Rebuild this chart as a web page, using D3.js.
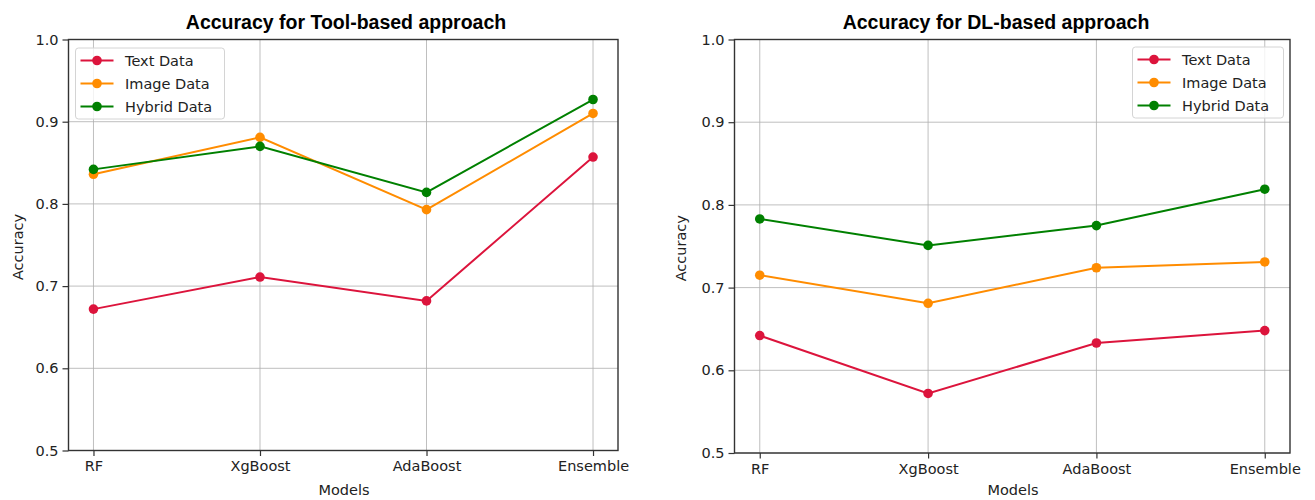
<!DOCTYPE html>
<html>
<head>
<meta charset="utf-8">
<script src="https://cdn.jsdelivr.net/npm/d3@7/dist/d3.min.js"></script>
<style>
  html, body { margin: 0; padding: 0; background: #fff; }
  svg { display: block; }
  .tick text { font-family: "DejaVu Sans", sans-serif; }
</style>
</head>
<body>
<svg id="chart" width="1315" height="500"></svg>
<script>
// Models evaluated on each approach
const models = ["RF", "XgBoost", "AdaBoost", "Ensemble"];
const seriesNames = ["Text Data", "Image Data", "Hybrid Data"];
const seriesColors = ["#dc143c", "#ff8c00", "#008000"];
const yTicks = [0.5, 0.6, 0.7, 0.8, 0.9, 1.0];

// Tool-based approach accuracy
const toolText   = [0.672, 0.711, 0.682, 0.857];
const toolImage  = [0.836, 0.881, 0.793, 0.910];
const toolHybrid = [0.842, 0.870, 0.814, 0.927];

// DL-based approach accuracy
const dlText   = [0.642, 0.572, 0.633, 0.648];
const dlImage  = [0.715, 0.681, 0.724, 0.731];
const dlHybrid = [0.783, 0.751, 0.775, 0.819];

const panels = [
  {
    title: "Accuracy for Tool-based approach",
    series: [toolText, toolImage, toolHybrid],
    box: { left: 68.5, right: 618, top: 39.5, bottom: 450.5 },
    titleX: 346, yLabelX: 17.5, xLabelX: 344,
    legend: { x: 75.5, y: 48, w: 149, h: 71 }
  },
  {
    title: "Accuracy for DL-based approach",
    series: [dlText, dlImage, dlHybrid],
    box: { left: 734.5, right: 1290, top: 39.5, bottom: 453 },
    titleX: 996, yLabelX: 681, xLabelX: 1013,
    legend: { x: 1132.5, y: 47, w: 151, h: 71 }
  }
];

const svg = d3.select("#chart");
const tickFont = "14.5px";

panels.forEach(p => {
  const b = p.box;
  const x = d3.scalePoint().domain(models).range([b.left, b.right]).padding(0.15);
  const y = d3.scaleLinear().domain([0.5, 1.0]).range([b.bottom, b.top]);

  const g = svg.append("g");

  // grid
  g.append("g").selectAll("line").data(models).join("line")
    .attr("x1", d => x(d)).attr("x2", d => x(d))
    .attr("y1", b.top).attr("y2", b.bottom)
    .attr("stroke", "#b0b0b0").attr("stroke-width", 1).attr("opacity", 0.8);
  g.append("g").selectAll("line").data(yTicks).join("line")
    .attr("x1", b.left).attr("x2", b.right)
    .attr("y1", d => y(d)).attr("y2", d => y(d))
    .attr("stroke", "#b0b0b0").attr("stroke-width", 1).attr("opacity", 0.8);

  // axes
  const xAxis = g.append("g").attr("transform", `translate(0,${b.bottom})`)
    .call(d3.axisBottom(x).tickSizeOuter(0).tickSize(5.5).tickPadding(5));
  const yAxis = g.append("g").attr("transform", `translate(${b.left},0)`)
    .call(d3.axisLeft(y).tickValues(yTicks).tickFormat(d3.format(".1f"))
      .tickSizeOuter(0).tickSize(6).tickPadding(4));
  [xAxis, yAxis].forEach(a => {
    a.select(".domain").remove();
    a.selectAll(".tick line").attr("stroke", "#333").attr("stroke-width", 1.2);
    a.selectAll(".tick text").attr("fill", "#222").style("font-size", tickFont);
  });

  // frame
  g.append("rect")
    .attr("x", b.left).attr("y", b.top)
    .attr("width", b.right - b.left).attr("height", b.bottom - b.top)
    .attr("fill", "none").attr("stroke", "#333").attr("stroke-width", 1.4);

  // lines and markers
  const line = d3.line().x((d, i) => x(models[i])).y(d => y(d));
  p.series.forEach((vals, si) => {
    g.append("path").datum(vals)
      .attr("d", line).attr("fill", "none")
      .attr("stroke", seriesColors[si]).attr("stroke-width", 2);
    g.append("g").selectAll("circle").data(vals).join("circle")
      .attr("cx", (d, i) => x(models[i])).attr("cy", d => y(d))
      .attr("r", 4.8).attr("fill", seriesColors[si]);
  });

  // title
  g.append("text").attr("x", p.titleX).attr("y", 29)
    .attr("text-anchor", "middle")
    .style("font-family", "'Liberation Sans', Arial, sans-serif")
    .style("font-weight", "bold").style("font-size", "19.5px")
    .attr("fill", "#000").text(p.title);

  // axis labels
  g.append("text").attr("x", p.xLabelX).attr("y", 495)
    .attr("text-anchor", "middle")
    .style("font-family", "'DejaVu Sans', sans-serif").style("font-size", tickFont)
    .attr("fill", "#222").text("Models");
  g.append("text")
    .attr("transform", `translate(${p.yLabelX + 5},${(b.top + b.bottom) / 2 + 2}) rotate(-90)`)
    .attr("text-anchor", "middle")
    .style("font-family", "'DejaVu Sans', sans-serif").style("font-size", tickFont)
    .attr("fill", "#222").text("Accuracy");

  // legend
  const L = p.legend;
  const lg = g.append("g").attr("transform", `translate(${L.x},${L.y})`);
  lg.append("rect").attr("width", L.w).attr("height", L.h)
    .attr("rx", 3).attr("fill", "#fff").attr("fill-opacity", 0.8)
    .attr("stroke", "#d4d4d4").attr("stroke-width", 1);
  seriesNames.forEach((name, i) => {
    const ry = 12.5 + i * 23;
    lg.append("line").attr("x1", 5).attr("x2", 38).attr("y1", ry).attr("y2", ry)
      .attr("stroke", seriesColors[i]).attr("stroke-width", 2);
    lg.append("circle").attr("cx", 21.5).attr("cy", ry).attr("r", 4.8)
      .attr("fill", seriesColors[i]);
    lg.append("text").attr("x", 49.5).attr("y", ry + 5.2)
      .style("font-family", "'DejaVu Sans', sans-serif").style("font-size", tickFont)
      .attr("fill", "#222").text(name);
  });
});
</script>
</body>
</html>
